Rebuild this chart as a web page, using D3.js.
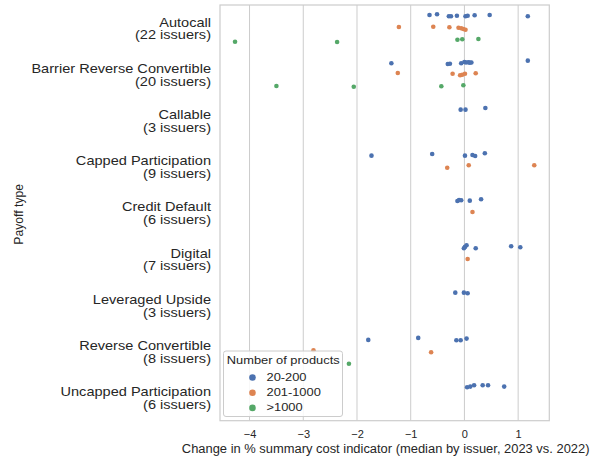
<!DOCTYPE html>
<html>
<head>
<meta charset="utf-8">
<script src="https://cdn.jsdelivr.net/npm/d3@7"></script>
<style>
  html, body { margin: 0; padding: 0; background: #fff; }
  svg { display: block; font-family: "Liberation Sans", Arial, sans-serif; }
</style>
</head>
<body>
<svg id="chart" width="599" height="459"></svg>
<script>
// ---------------- DATA ----------------
const categories = ["Autocall", "Barrier Reverse Convertible", "Callable", "Capped Participation",
  "Credit Default", "Digital", "Leveraged Upside", "Reverse Convertible", "Uncapped Participation"];
const issuerCounts = [22, 20, 3, 9, 6, 7, 3, 8, 6];
const hueLabels = ["20-200", "201-1000", ">1000"];
const xTicks = [-4, -3, -2, -1, 0, 1];

// values per category for each hue group (change in % summary cost indicator)
const values20to200 = [
  [-0.65, -0.51, -0.29, -0.25, -0.14, 0.02, 0.06, 0.19, 0.47, 1.18],
  [-1.36, -0.31, -0.27, -0.06, 0.0, 0.03, 0.07, 0.10, 0.13, 1.18],
  [-0.07, 0.02, 0.39],
  [-1.73, -0.60, 0.01, 0.15, 0.20, 0.38],
  [-0.13, -0.10, -0.06, 0.10, 0.31],
  [-0.01, 0.01, 0.04, 0.21, 0.87, 1.04],
  [-0.17, -0.01, 0.06],
  [-1.79, -0.86, -0.15, -0.07, 0.04],
  [0.05, 0.11, 0.18, 0.34, 0.44, 0.74]
];
const values201to1000 = [
  [-1.22, -0.58, -0.28, -0.11, -0.06, -0.02, 0.02],
  [-1.24, -0.22, -0.08, -0.04, 0.01, 0.21],
  [],
  [-0.32, 0.08, 1.30],
  [0.15],
  [0.06],
  [],
  [-2.81, -0.62],
  []
];
const valuesOver1000 = [
  [-4.27, -2.37, -0.13, -0.04, 0.26],
  [-3.50, -2.06, -0.43, -0.02],
  [], [], [], [], [],
  [-2.15],
  []
];
// strip-plot jitter (fraction of a category band)
const jitter20to200 = [
  [-0.017, -0.032, 0.011, 0.011, -0.002, 0.011, -0.002, -0.011, -0.017, 0.011],
  [0.028, 0.043, 0.037, 0.028, 0, 0.011, 0.006, 0.015, 0.011, -0.028],
  [0.032, 0.032, -0.004],
  [0.028, -0.009, 0.028, 0.013, 0.035, -0.024],
  [0.009, -0.013, -0.006, 0.002, -0.028],
  [0.032, 0.004, -0.032, 0.032, -0.011, 0.011],
  [-0.006, -0.006, 0.006],
  [0.017, -0.026, 0.024, 0.024, -0.011],
  [0.041, 0.028, 0, 0, 0, 0.028]
];
const jitter201to1000 = [
  [-0.024, -0.030, -0.017, -0.009, 0.004, 0.019, 0.035],
  [-0.028, -0.013, 0.022, 0.009, -0.013, -0.022],
  [],
  [0.022, -0.030, -0.030],
  [-0.019],
  [0],
  [],
  [-0.026, 0.017],
  []
];
const jitterOver1000 = [
  [0.028, 0.035, -0.015, -0.024, -0.030],
  [-0.013, 0.002, -0.006, -0.028],
  [], [], [], [], [],
  [0],
  []
];

// ---------------- LAYOUT ----------------
const colors = ["#4c72b0", "#dd8452", "#55a868"];
const textColor = "#262626";
const gridColor = "#cccccc";
const W = 599, H = 459;
const margin = { left: 220, right: W - 549.3, top: 5, bottom: H - 420.7 };
const stretch = 1.1; // horizontal text stretch seen in the reference

const svg = d3.select("#chart");
const x = d3.scaleLinear().domain([-4.55, 1.58]).range([margin.left, W - margin.right]);
const y = d3.scaleBand().domain(categories).range([margin.top, H - margin.bottom]).paddingInner(0).paddingOuter(0);
const bw = y.bandwidth();
const dodge = d3.scaleBand().domain(hueLabels).range([-0.4, 0.4]);

// grid lines
svg.append("g").selectAll("line").data(xTicks).join("line")
  .attr("x1", d => x(d)).attr("x2", d => x(d))
  .attr("y1", margin.top).attr("y2", H - margin.bottom)
  .attr("stroke", gridColor).attr("stroke-width", 1);

// frame
svg.append("rect")
  .attr("x", margin.left).attr("y", margin.top)
  .attr("width", W - margin.right - margin.left)
  .attr("height", H - margin.bottom - margin.top)
  .attr("fill", "none").attr("stroke", gridColor).attr("stroke-width", 1.2);

// x axis tick labels
const xAxis = d3.axisBottom(x).tickValues(xTicks).tickSize(0).tickPadding(9.5)
  .tickFormat(d => d3.format("d")(d).replace("-", "\u2212"));
const gx = svg.append("g").attr("transform", `translate(0,${H - margin.bottom})`).call(xAxis);
gx.select(".domain").remove();
gx.selectAll("text").attr("fill", textColor).attr("font-size", 11)
  .attr("font-family", "Liberation Sans, Arial, sans-serif");

// y axis labels (two lines)
const gy = svg.append("g");
categories.forEach((c, i) => {
  const cy = y(c) + bw / 2;
  const t = gy.append("text").attr("text-anchor", "end").attr("fill", textColor)
    .attr("font-size", 13)
    .attr("transform", `translate(${margin.left - 9},${cy}) scale(1.12,1)`);
  t.append("tspan").attr("x", 0).attr("y", -1.4).text(c);
  t.append("tspan").attr("x", 0).attr("y", 11.4).text(`(${issuerCounts[i]} issuers)`);
});

// axis titles
svg.append("text")
  .attr("transform", `translate(${(margin.left + W - margin.right) / 2 + 1},452.5) scale(1.05,1)`)
  .attr("text-anchor", "middle").attr("fill", textColor).attr("font-size", 12.3)
  .text("Change in % summary cost indicator (median by issuer, 2023 vs. 2022)");
svg.append("text")
  .attr("transform", `translate(23,${(margin.top + H - margin.bottom) / 2 + 1.5}) rotate(-90)`)
  .attr("text-anchor", "middle").attr("fill", textColor).attr("font-size", 12.2)
  .text("Payoff type");

// points
const groups = [
  { vals: values20to200, jit: jitter20to200 },
  { vals: values201to1000, jit: jitter201to1000 },
  { vals: valuesOver1000, jit: jitterOver1000 }
];
const points = [];
groups.forEach((g, h) => {
  categories.forEach((c, i) => {
    g.vals[i].forEach((v, k) => {
      points.push({ cat: c, hue: h, value: v, jit: g.jit[i][k] });
    });
  });
});
svg.append("g").selectAll("circle").data(points).join("circle")
  .attr("cx", d => x(d.value))
  .attr("cy", d => y(d.cat) + bw / 2 + (dodge(hueLabels[d.hue]) + dodge.bandwidth() / 2 + d.jit) * bw)
  .attr("r", 2.3)
  .attr("fill", d => colors[d.hue]);

// legend
const lg = svg.append("g").attr("transform", "translate(223.5,351)");
lg.append("rect").attr("width", 119).attr("height", 65.5).attr("rx", 2.5)
  .attr("fill", "rgba(255,255,255,0.85)").attr("stroke", gridColor).attr("stroke-width", 1);
lg.append("text").attr("transform", `translate(3.3,13) scale(${stretch},1)`)
  .attr("fill", textColor).attr("font-size", 11.7)
  .text("Number of products");
hueLabels.forEach((h, i) => {
  lg.append("circle").attr("cx", 29).attr("cy", 26.5 + i * 15.2).attr("r", 3.3).attr("fill", colors[i]);
  lg.append("text").attr("transform", `translate(43,${30 + i * 15.2}) scale(${stretch},1)`)
    .attr("fill", textColor).attr("font-size", 11.7)
    .text(h);
});
</script>
</body>
</html>
